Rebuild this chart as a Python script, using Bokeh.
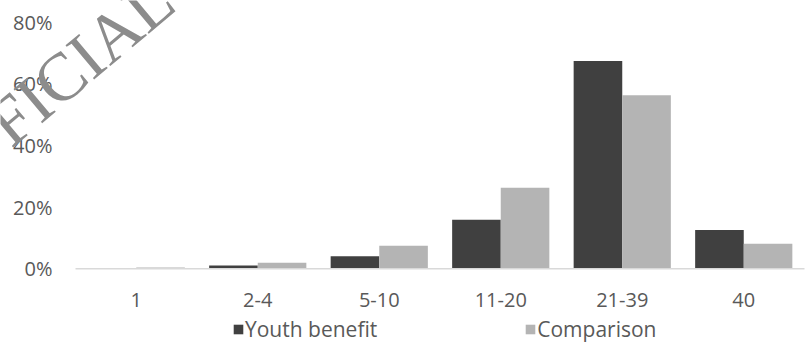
import math
from bokeh.plotting import figure
from bokeh.models import ColumnDataSource, Legend, LegendItem, Label, Range1d
from bokeh.core.properties import value
from bokeh.transform import dodge
from bokeh.embed import file_html
from bokeh.resources import INLINE

# ---- data ----
categories = ["1", "2-4", "5-10", "11-20", "21-39", "40"]
youth_benefit_pct = [0.0, 1.1, 4.1, 15.9, 67.4, 12.6]
comparison_pct = [0.4, 2.0, 7.5, 26.3, 56.3, 8.1]
y_ticks = [0.0, 0.2, 0.4, 0.6, 0.8]
y_tick_labels = ["0%", "20%", "40%", "60%", "80%"]
series_names = ["Youth benefit", "Comparison"]
watermark_text = "FICIAL"

DARK = "#404040"
LIGHT = "#b4b4b4"
TEXT = "#595959"
FONT = "Open Sans"

n = len(categories)
centers = [i + 0.5 for i in range(n)]
source = ColumnDataSource(data=dict(
    cat=categories,
    xc=centers,
    youth=[v / 100.0 for v in youth_benefit_pct],
    comp=[v / 100.0 for v in comparison_pct],
))

# the plotting frame covers the whole canvas; one category = 121.5 px
W, H = 805, 343
cat_px = 121.5
left_px = 75.0           # canvas px left of the first category
zero_px = 268.3          # canvas y of 0%
unit_px = 308.25         # px per 1.0 (100%)

p = figure(
    x_range=Range1d(-left_px / cat_px, (W - left_px) / cat_px),
    y_range=Range1d(-(H - zero_px) / unit_px, zero_px / unit_px),
    width=W, height=H,
    output_backend="svg",
    toolbar_location=None,
    x_axis_location=None, y_axis_location=None,
    min_border=0,
)
p.outline_line_color = None
p.background_fill_color = "white"
p.border_fill_color = "white"
p.xgrid.grid_line_color = None
p.ygrid.grid_line_color = None

r1 = p.vbar(x=dodge("xc", -0.2), top="youth", width=0.4, source=source,
            fill_color=DARK, line_color=None)
r2 = p.vbar(x=dodge("xc", 0.2), top="comp", width=0.4, source=source,
            fill_color=LIGHT, line_color=None)

# category axis line
p.segment(x0=[0], y0=[0], x1=[n], y1=[0], line_color="#d9d9d9", line_width=1.5)

# category labels
p.text(x="xc", y=0, text="cat", source=source, text_font=value(FONT),
       text_font_size="20px", text_color=TEXT, text_align="center",
       text_baseline="alphabetic", y_offset=31)

# value axis labels
ysrc = ColumnDataSource(data=dict(y=y_ticks, t=y_tick_labels))
p.text(x=0, y="y", text="t", source=ysrc, text_font=value(FONT),
       text_font_size="20px", text_color=TEXT, text_align="right",
       text_baseline="alphabetic", x_offset=-23, y_offset=0)

legend = Legend(
    items=[LegendItem(label=series_names[0], renderers=[r1]),
           LegendItem(label=series_names[1], renderers=[r2])],
    orientation="horizontal",
    location=(232, 0),
    glyph_width=12, glyph_height=12,
    label_standoff=1, spacing=147,
    padding=0, margin=0,
    border_line_color=None,
    background_fill_alpha=0,
    label_text_font=FONT,
    label_text_font_size="21px",
    label_text_color=TEXT,
)
p.add_layout(legend, "center")

# watermark (screen units relative to the frame's bottom-left)
wm = Label(x=-4, y=212, x_units="screen", y_units="screen", text=watermark_text,
           angle=math.radians(40), text_font="Liberation Serif", text_font_size="68px",
           text_color="#8c8c8c", text_align="left", text_baseline="alphabetic")
p.add_layout(wm)

open("out.html", "w").write(file_html(p, INLINE))
